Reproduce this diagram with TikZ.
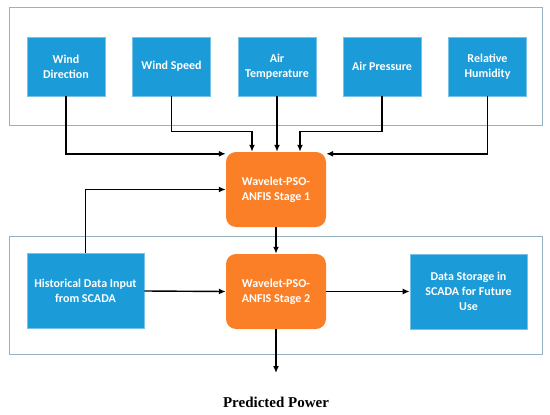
\documentclass[tikz,border=0pt]{standalone}
\usepackage{fontspec}
\setmainfont{Liberation Serif}
\newfontfamily\boxfont{Carlito}
\usetikzlibrary{arrows.meta,calc}
\definecolor{boxblue}{RGB}{27,155,215}
\definecolor{boxorange}{RGB}{250,127,38}
\definecolor{framegray}{RGB}{150,178,192}
\tikzset{
  inbox/.style={fill=boxblue, draw=boxblue!60!white, line width=0.6pt, minimum width=78pt, minimum height=59pt,
    text=white, align=center, font=\boxfont\bfseries\fontsize{12}{15}\selectfont, inner sep=2pt},
  widebox/.style={inbox, minimum width=117pt, minimum height=75pt},
  stagebox/.style={fill=boxorange, rounded corners=10pt, minimum width=100pt, minimum height=75pt,
    text=white, align=center, font=\boxfont\bfseries\fontsize{12}{15}\selectfont, inner sep=2pt},
  frame/.style={draw=framegray, line width=0.9pt},
  arr/.style={draw=black, line width=1.4pt, -{Latex[length=7pt,width=6pt]}},
}
\begin{document}
\begin{tikzpicture}[x=1pt,y=-1pt]
\useasboundingbox (0,0) rectangle (550,415);
\fill[white] (0,0) rectangle (550,415);
% frames
\draw[frame] (9,7) rectangle (542,125);
\draw[frame] (9,236) rectangle (542,354);
% top inputs
\node[inbox] (wd) at (66,66.5) {Wind\\Direction};
\node[inbox] (ws) at (171.5,66.5) {Wind Speed};
\node[inbox] (at) at (277,66.5) {Air\\Temperature};
\node[inbox] (ap) at (382,66.5) {Air Pressure};
\node[inbox] (rh) at (487.5,66.5) {Relative\\Humidity};
% stages
\node[stagebox] (s1) at (276,189.5) {Wavelet-PSO-\\ANFIS Stage 1};
\node[stagebox] (s2) at (276,291.5) {Wavelet-PSO-\\ANFIS Stage 2};
% bottom boxes
\node[widebox] (hd) at (85.5,291) {Historical Data Input\\from SCADA};
\node[widebox] (ds) at (468.5,291.5) {Data Storage in\\SCADA for Future\\Use};
% output
\node[font=\bfseries\fontsize{15}{18}\selectfont] (pp) at (276,402) {Predicted Power};
\coordinate (out) at (276,373);
% connectors
\draw[arr] (wd.south) |- ([yshift=-2pt]s1.north west);
\draw[arr] (ws.south) -- ++(0,35) -| ([xshift=-24pt]s1.north);
\draw[arr] (at.south) -- (at.south |- s1.north);
\draw[arr] (ap.south) -- ++(0,35) -| ([xshift=24pt]s1.north);
\draw[arr] (rh.south) |- ([yshift=-2pt]s1.north east);
\draw[arr] (hd.north) |- (s1.west);
\draw[arr] (s1.south) -- (s2.north);
\draw[arr] (hd.east) -- (s2.west);
\draw[arr] (s2.east) -- (ds.west);
\draw[arr] (s2.south) -- (out);
\end{tikzpicture}
\end{document}
